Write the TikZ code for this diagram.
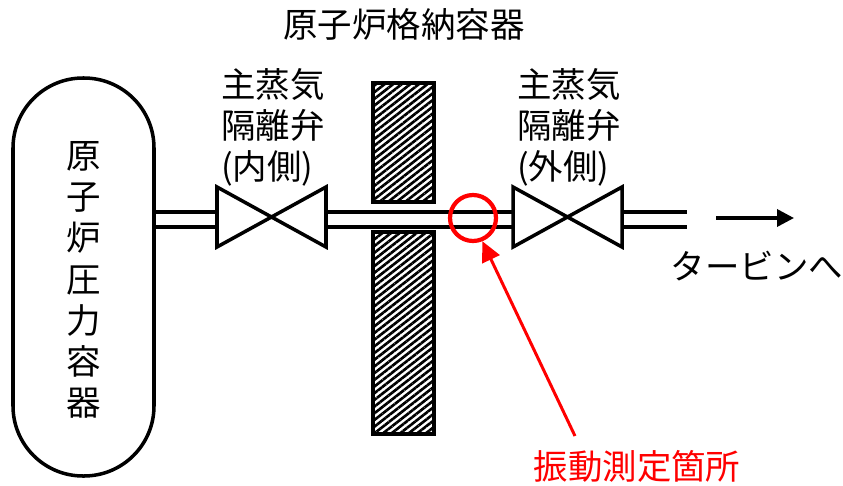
\documentclass[tikz,border=0pt]{standalone}
\usepackage{fontspec}
\setmainfont{Noto Sans CJK JP}
\usetikzlibrary{patterns.meta}
\usetikzlibrary{arrows.meta}
\tikzset{
  pipeline/.style={line width=1pt},
  valve/.style={line width=1pt, fill=white},
  wall/.style={draw, line width=1.1pt, minimum width=0.61cm, inner sep=0pt, pattern={Lines[angle=38, distance=1.5pt, line width=0.75pt]}},
  caption/.style={font=\fontsize{9.8pt}{11.7pt}\selectfont, inner sep=0pt, align=center},
}
\begin{document}
\begin{tikzpicture}
    \useasboundingbox (0,0) rectangle (8.43,-4.85);
    \node [draw, line width=1pt, rounded corners=0.7cm, minimum width=1.41cm, minimum height=3.98cm, inner sep=0pt] (vessel) at (0.835,-2.77) {};
    \node [caption] (vessellabel) at (0.84,-2.8) {原\\子\\炉\\圧\\力\\容\\器};
    \node [wall, minimum height=1.19cm] (wallupper) at (4.035,-1.425) {};
    \node [wall, minimum height=2.02cm] (walllower) at (4.035,-3.33) {};
    % pipes
    \coordinate (inleftb) at (2.17,-2.12);
    \coordinate (inleftc) at (2.17,-2.27);
    \coordinate (inrightb) at (3.26,-2.12);
    \coordinate (inrightc) at (3.26,-2.27);
    \coordinate (outleftb) at (5.13,-2.12);
    \coordinate (outleftc) at (5.13,-2.27);
    \coordinate (outrightb) at (6.22,-2.12);
    \coordinate (outrightc) at (6.22,-2.27);
    \coordinate (endb) at (6.87,-2.12);
    \coordinate (endc) at (6.87,-2.27);
    \draw [pipeline] (vessel.east |- inleftb) -- (inleftb);
    \draw [pipeline] (vessel.east |- inleftc) -- (inleftc);
    \draw [pipeline] (inrightb) -- (outleftb);
    \draw [pipeline] (inrightc) -- (outleftc);
    \draw [pipeline] (outrightb) -- (endb);
    \draw [pipeline] (outrightc) -- (endc);
    % valves
    \draw [valve] (2.17,-1.87) -- (3.26,-2.47) -- (3.26,-1.87) -- (2.17,-2.47) -- cycle;
    \draw [valve] (5.13,-1.87) -- (6.22,-2.47) -- (6.22,-1.87) -- (5.13,-2.47) -- cycle;
    % flow
    \coordinate (flowstart) at (7.16,-2.18);
    \coordinate (flowend) at (7.94,-2.18);
    \draw [-{Triangle[length=0.17cm, width=0.17cm]}, line width=1pt] (flowstart) -- (flowend);
    \node [caption] (turbine) at (7.57,-2.66) {タービンへ};
    % measuring point
    \node [draw=red, line width=1.2pt, circle, minimum size=0.46cm, inner sep=0pt] (spot) at (4.73,-2.18) {};
    \node [caption, text=red] (spotlabel) at (6.37,-4.66) {振動測定箇所};
    \coordinate (spottail) at (5.75,-4.36);
    \draw [red, -{Triangle[length=0.2cm, width=0.19cm]}, line width=0.85pt] (spottail) -- (spot.-68);
    \node [caption] (vesselname) at (4.04,-0.24) {原子炉格納容器};
    \node [caption, align=left] (innerlabel) at (2.73,-1.27) {主蒸気\\隔離弁\\(内側)};
    \node [caption, align=left] (outerlabel) at (5.69,-1.27) {主蒸気\\隔離弁\\(外側)};
\end{tikzpicture}
\end{document}
